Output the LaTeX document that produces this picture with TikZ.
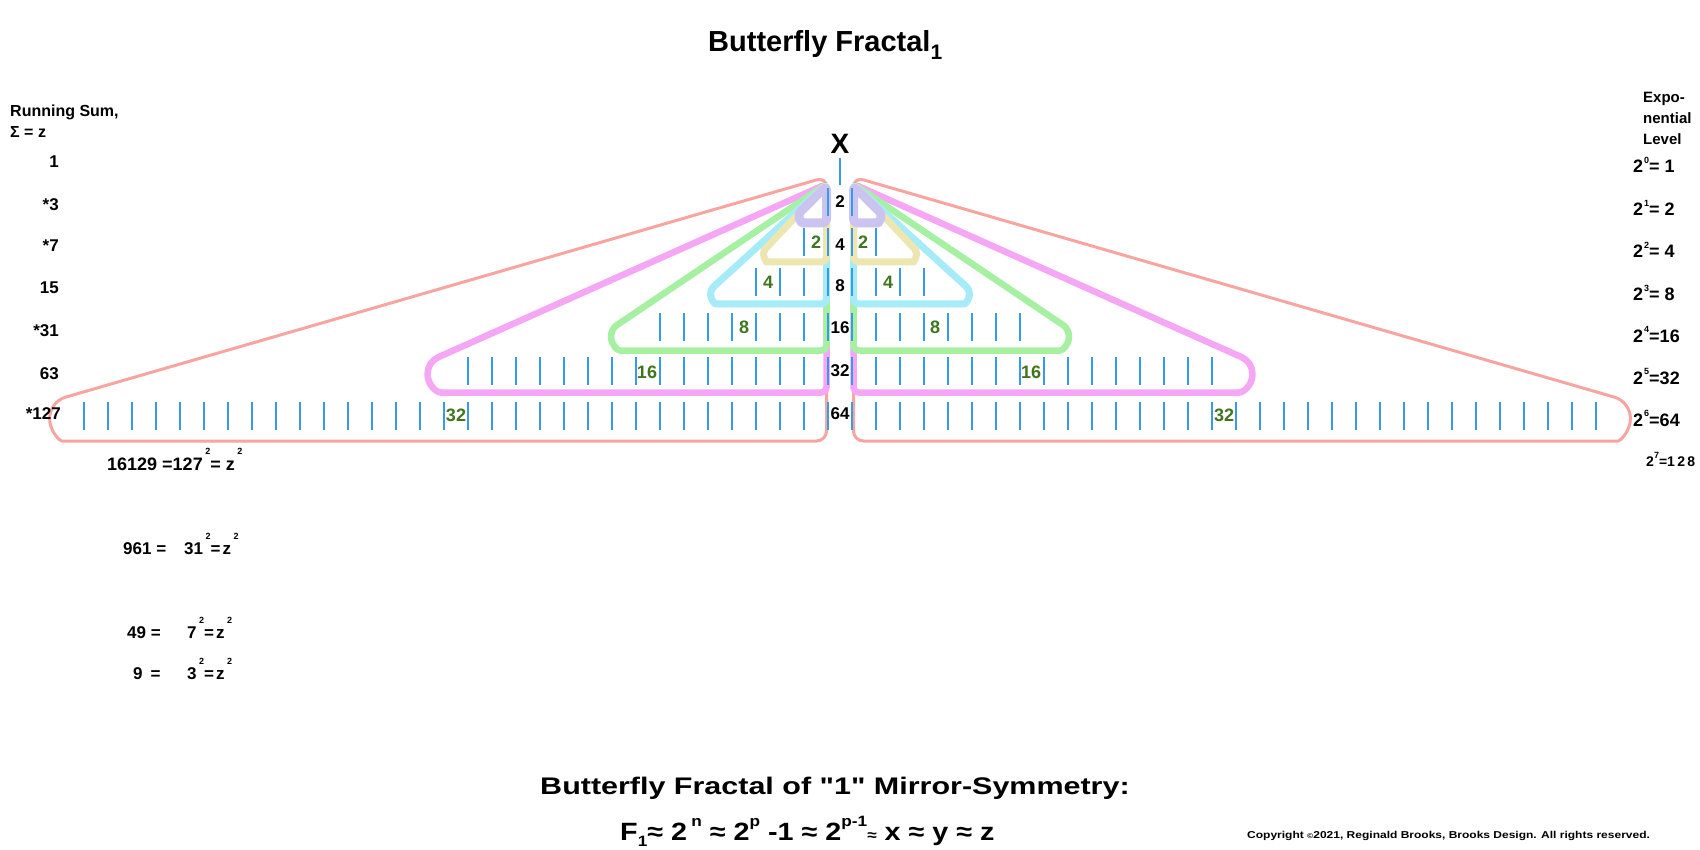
\documentclass[tikz,border=0pt]{standalone}
\usepackage{fontspec}
\setmainfont{Liberation Sans}
\newfontfamily\widefont[FakeStretch=1.27]{Liberation Sans}
\newfontfamily\formfont[FakeStretch=1.15]{Liberation Sans}
\newfontfamily\copyfont[FakeStretch=1.2]{Liberation Sans}
\definecolor{salmonc}{RGB}{247,165,160}
\definecolor{pinkc}{RGB}{245,166,245}
\definecolor{greenc}{RGB}{166,240,162}
\definecolor{cyanc}{RGB}{166,236,248}
\definecolor{yellowc}{RGB}{238,230,176}
\definecolor{lavc}{RGB}{203,196,240}
\definecolor{tickc}{RGB}{58,154,232}
\definecolor{lblgreen}{RGB}{62,118,30}
\newcommand\up[2][9]{\raisebox{0.55em}{\fontsize{#1}{#1}\selectfont #2}}
\newcommand\upp[1]{\kern2.5pt\raisebox{0.85em}{\fontsize{9}{9}\selectfont #1}}
\newcommand\dn[2][9]{\raisebox{-0.25em}{\fontsize{#1}{#1}\selectfont #2}}
% color, width, cx, R, yb, ax, ay, corner
\newcommand\wing[8]{%
  \pgfmathsetmacro\wcy{#5-#4}%
  \pgfmathsetmacro\wgd{veclen(#6-#3,#7-\wcy)}%
  \pgfmathsetmacro\wph{atan2(#7-\wcy,#6-#3)}%
  \pgfmathsetmacro\wal{acos(#4/\wgd)}%
  \pgfmathsetmacro\wbe{\wph-\wal+360}%
  \draw[#1, line width=#2, line join=round] (#3,#5) arc[start angle=90, end angle=\wbe, radius=#4]
    [rounded corners=#8] -- (#6,#7) -- (#6,#5) -- cycle;
}
\newcommand\tickrow[2]{%
  \foreach \k in {#1,...,31}{%
    \draw[tk] ({84+24*\k},#2) -- ++(0,28);
    \draw[tk] ({1596-24*\k},#2) -- ++(0,28);
  }%
}
\newcommand\bothwings{%
  \wing{salmonc}{3pt}{72}{22.4}{441}{826.5}{177}{10pt}
  \wing{pinkc}{6.5pt}{446}{18.5}{392.5}{826.5}{184}{5pt}
  \wing{greenc}{6.5pt}{625}{14}{350.5}{826.5}{184}{5pt}
  \wing{cyanc}{7pt}{720.5}{10}{304}{826.5}{184}{5pt}
  \wing{yellowc}{7pt}{771.5}{8}{262}{826.5}{184}{5pt}
  \wing{lavc}{9pt}{806}{7}{223}{826.5}{186}{4pt}
}
\begin{document}
\begin{tikzpicture}[x=1pt,y=-1pt,
  tk/.style={tickc, line width=2.2pt},
  gl/.style={font=\fontsize{18}{18}\selectfont\bfseries, text=lblgreen, inner sep=0pt, anchor=base},
  cl/.style={font=\fontsize{17}{17}\selectfont\bfseries, inner sep=0pt, anchor=base},
  rl/.style={font=\fontsize{18}{18}\selectfont\bfseries, inner sep=0pt, anchor=base west},
  ll/.style={font=\fontsize{17}{17}\selectfont\bfseries, inner sep=0pt, anchor=base east},
  eq/.style={font=\fontsize{17}{17}\selectfont\bfseries, inner sep=0pt, anchor=base west},
  hd/.style={font=\fontsize{16}{16}\selectfont\bfseries, inner sep=0pt, anchor=base west},
  hr/.style={font=\fontsize{15}{15}\selectfont\bfseries, inner sep=0pt, anchor=base west}]
\useasboundingbox (0,0) rectangle (1700,850);
\fill[white] (0,0) rectangle (1700,850);

% left wing
\bothwings
% right wing (mirror)
\begin{scope}[xshift=1680pt, xscale=-1]
\bothwings
\end{scope}

% ticks
\draw[tk] (840,158) -- ++(0,27);
\tickrow{31}{188}
\tickrow{30}{228}
\tickrow{28}{268}
\tickrow{24}{313}
\tickrow{16}{357}
\tickrow{0}{402}

% titles
\node[anchor=base west, inner sep=0pt, font=\fontsize{29}{29}\selectfont\bfseries] (title) at (708,52) {Butterfly Fractal\dn[21]{1}};
\node[anchor=base, inner sep=0pt, font=\fontsize{28}{28}\selectfont\bfseries] (xx) at (840,154) {X};

% center numbers
\node[cl] (c2) at (840,208) {2};
\node[cl] (c4) at (840,251) {4};
\node[cl] (c8) at (840,292) {8};
\node[cl] (c16) at (840,334) {16};
\node[cl] (c32) at (840,376) {32};
\node[cl] (c64) at (840,419) {64};

% green labels
\node[gl] (gl2) at (816,249) {2};
\node[gl] (gr2) at (863,249) {2};
\node[gl] (gl4) at (768,289) {4};
\node[gl] (gr4) at (888,289) {4};
\node[gl] (gl8) at (744,334) {8};
\node[gl] (gr8) at (935,334) {8};
\node[gl] (gl16) at (647,378) {16};
\node[gl] (gr16) at (1031,378) {16};
\node[gl] (gl32) at (456,421) {32};
\node[gl] (gr32) at (1224,421) {32};

% left column
\node[hd] (rs1) at (10,117) {Running Sum,};
\node[hd] (rs2) at (10,138) {Σ = z};
\node[ll] (s1) at (59,168) {1};
\node[ll] (s3) at (59,211) {*3};
\node[ll] (s7) at (59,252) {*7};
\node[ll] (s15) at (59,294) {15};
\node[ll] (s31) at (59,336) {*31};
\node[ll] (s63) at (59,379) {63};
\node[ll] (s127) at (61,419) {*127};

% right column
\node[hr] (e1) at (1643,103) {Expo-};
\node[hr] (e2) at (1643,124) {nential};
\node[hr] (e3) at (1643,145) {Level};
\node[rl] (p0) at (1633,173) {2\kern1pt\up{0}= 1};
\node[rl] (p1) at (1633,216) {2\kern1pt\up{1}= 2};
\node[rl] (p2) at (1633,258) {2\kern1pt\up{2}= 4};
\node[rl] (p3) at (1633,301) {2\kern1pt\up{3}= 8};
\node[rl] (p4) at (1633,342) {2\kern1pt\up{4}=16};
\node[rl] (p5) at (1633,384) {2\kern1pt\up{5}=32};
\node[rl] (p6) at (1633,426) {2\kern1pt\up{6}=64};
\node[anchor=base west, inner sep=0pt, font=\fontsize{14}{14}\selectfont\bfseries] (p7) at (1646,466) {2\up[9]{7}=1\,2\,8};

% squares
\node[eq, font=\fontsize{18}{18}\selectfont\bfseries] (q127) at (107,470) {16129 =127\upp{2}= z\upp{2}};
\node[eq] (q31a) at (123,554) {961 =};
\node[eq] (q31b) at (184,554) {31\upp{2}=\kern2pt z\upp{2}};
\node[eq] (q7a) at (127,638) {49 =};
\node[eq] (q7b) at (187,638) {7\upp{2}=\kern2pt z\upp{2}};
\node[eq] (q3a) at (133,679) {9\hspace{8pt}=};
\node[eq] (q3b) at (187,679) {3\upp{2}=\kern2pt z\upp{2}};

% bottom
\node[anchor=base, inner sep=0pt, font=\widefont\fontsize{24}{24}\selectfont\bfseries] (sub) at (835,794) {Butterfly Fractal of "1" Mirror-Symmetry:};
\node[anchor=base west, inner sep=0pt, font=\formfont\fontsize{25}{25}\selectfont\bfseries] (form) at (620,840) {F\dn[15]{1}≈ 2\,\up[15]{n} ≈ 2\up[15]{p} -1 ≈ 2\up[15]{p-1}{\fontsize{15}{15}\selectfont ≈} x ≈ y ≈ z};
\node[anchor=base west, inner sep=0pt, font=\copyfont\fontsize{10}{10}\selectfont\bfseries] (copy) at (1247,838) {Copyright {\fontsize{7}{7}\selectfont ©}2021, Reginald Brooks, Brooks Design. All rights reserved.};
\end{tikzpicture}
\end{document}
